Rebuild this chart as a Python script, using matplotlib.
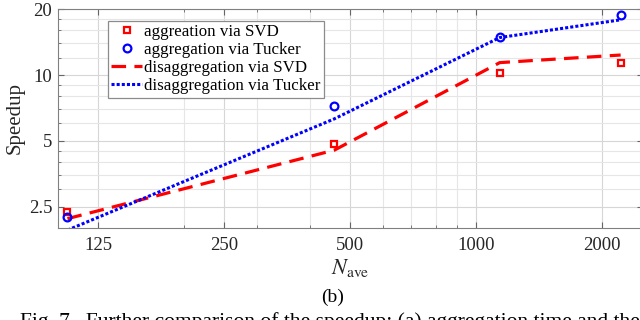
"""
Speedup vs N_ave, aggregation / disaggregation via SVD and Tucker
"""

import matplotlib
matplotlib.use("Agg")
import matplotlib.pyplot as plt
from matplotlib.ticker import FixedLocator, NullFormatter

# data
n_ave = [105.5, 458, 1138, 2213]
agg_svd = [2.36, 4.83, 10.2, 11.3]
agg_tucker = [2.24, 7.23, 14.9, 18.8]
disagg_svd = [2.20, 4.53, 11.4, 12.35]
disagg_tucker = [1.95, 6.3, 14.85, 17.9]

x_ticks = [125, 250, 500, 1000, 2000]
x_minor = [200, 300, 400, 600, 700, 800, 900]
y_ticks = [2.5, 5, 10, 20]
y_minor = [3, 3.5, 4, 4.5, 6, 7, 8, 9, 12, 14, 16, 18]

plt.rcParams["font.family"] = ["Liberation Serif", "DejaVu Serif"]
plt.rcParams["mathtext.fontset"] = "stix"
plt.rcParams["lines.scale_dashes"] = False

W, H = 640, 320
fig = plt.figure(figsize=(6.4, 3.2), dpi=100)
# right spine falls just outside the picture (it is cropped)
ax = fig.add_axes([57.7 / W, (H - 227.7) / H, 585.1 / W, 218.4 / H])

ax.set_xscale("log")
ax.set_yscale("log")
ax.set_xlim(100, 2500)
ax.set_ylim(2, 20)

ax.plot(n_ave, agg_svd, ls="none", marker="s", ms=4.8, mfc="none",
        mec="red", mew=1.6, label="aggreation via SVD", zorder=4)
ax.plot(n_ave, agg_tucker, ls="none", marker="o", ms=5.6, mfc="none",
        mec="blue", mew=1.6, label="aggregation via Tucker", zorder=4)
ax.plot(n_ave, disagg_svd, color="red", lw=2.3, ls=(0, (10.5, 6.0)),
        dash_capstyle="butt", label="disaggregation via SVD", zorder=3)
ax.plot(n_ave, disagg_tucker, color="blue", lw=2.2, ls=(0, (2.2, 1.5)),
        dash_capstyle="butt", label="disaggregation via Tucker", zorder=3)

ax.xaxis.set_major_locator(FixedLocator(x_ticks))
ax.xaxis.set_minor_locator(FixedLocator(x_minor))
ax.yaxis.set_major_locator(FixedLocator(y_ticks))
ax.yaxis.set_minor_locator(FixedLocator(y_minor))
ax.set_xticklabels([str(v) for v in x_ticks])
ax.set_yticklabels(["2.5", "5", "10", "20"])
ax.xaxis.set_minor_formatter(NullFormatter())
ax.yaxis.set_minor_formatter(NullFormatter())

ax.grid(True, which="major", color="#d6d6d6", lw=0.8)
ax.grid(True, which="minor", color="#e6e6e6", lw=0.8)
ax.set_axisbelow(True)

ax.tick_params(which="both", direction="in", top=True, right=True,
               colors="#666666", labelcolor="#262626", labelsize=13.5)
ax.tick_params(which="major", length=4, width=0.8)
ax.tick_params(which="minor", length=2.5, width=0.6)
ax.tick_params(axis="x", pad=7)
ax.tick_params(axis="y", pad=4)
for sp in ax.spines.values():
    sp.set_color("#808080")
    sp.set_linewidth(0.8)

ax.set_ylabel("Speedup", fontsize=15, color="#262626", labelpad=3)
ax.set_xlabel(r"$N_{\mathrm{ave}}$", fontsize=16, color="#262626", labelpad=2)

leg = ax.legend(loc="upper left", bbox_to_anchor=(0.086, 0.948),
                borderaxespad=0, fontsize=12.2, frameon=True, fancybox=False,
                framealpha=1, edgecolor="#8c8c8c", handlelength=1.8,
                handletextpad=0.15, labelspacing=0.12, borderpad=0.2)
leg.get_frame().set_linewidth(0.9)

fig.text(333 / W, 1 - 297 / H, "(b)", fontsize=14, ha="center", va="center")
# caption line of the page, cut by the bottom edge as in the source
fig.text(20 / W, 1 - 312.5 / H,
         "Fig. 7.  Further comparison of the speedup: (a) aggregation time and the",
         fontsize=15.5, ha="left", va="top")

fig.savefig("out.png", dpi=100)
